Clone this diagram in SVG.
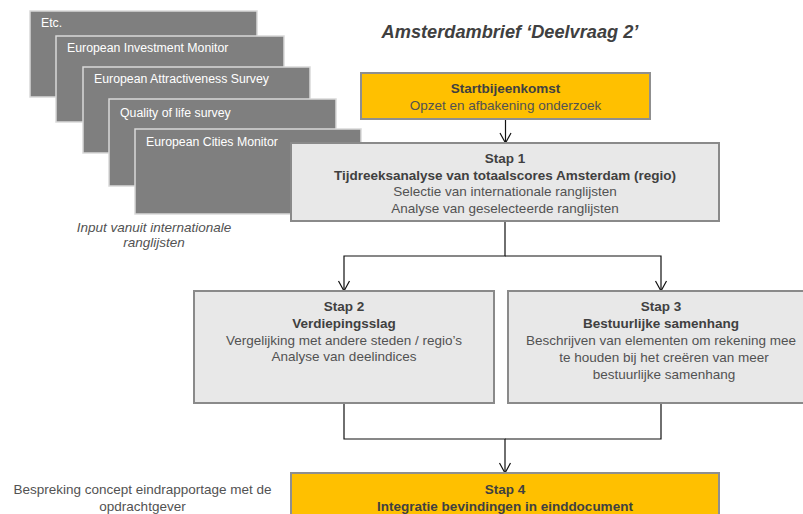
<svg xmlns="http://www.w3.org/2000/svg" width="803" height="514" viewBox="0 0 803 514">
<defs>
<style>
.src{fill:#7f7f7f;stroke:#d9d9d9;stroke-width:1.5}
.srct{font-family:"Liberation Sans",Arial,sans-serif;font-size:12.3px;fill:#ffffff}
.box{fill:#e8e8e8;stroke:#8a8a8a;stroke-width:2}
.ybox{fill:#ffc000;stroke:#8f8f8f;stroke-width:2}
.t{font-family:"Liberation Sans",Arial,sans-serif;font-size:13.5px;fill:#525252;text-anchor:middle}
.b{font-weight:bold;fill:#404040}
.it{font-style:italic}
.conn{fill:none;stroke:#111;stroke-width:1.2}
</style>
<marker id="arr" viewBox="-1 -7 12 14" refX="10" refY="0" markerWidth="12" markerHeight="14" markerUnits="userSpaceOnUse" orient="auto">
<path d="M0,-5.5 L10,0 L0,5.5" fill="none" stroke="#111" stroke-width="1.2"/>
</marker>
</defs>
<rect width="803" height="514" fill="#ffffff"/>

<g id="src-etc"><rect class="src" x="30" y="11" width="227" height="86"/><text class="srct" x="41" y="27">Etc.</text></g>
<g id="src-eim"><rect class="src" x="56" y="36" width="228" height="86"/><text class="srct" x="67" y="52">European Investment Monitor</text></g>
<g id="src-eas"><rect class="src" x="83" y="67" width="227" height="86"/><text class="srct" x="94" y="83">European Attractiveness Survey</text></g>
<g id="src-qol"><rect class="src" x="109" y="99" width="227" height="87"/><text class="srct" x="120" y="117">Quality of life survey</text></g>
<g id="src-ecm"><rect class="src" x="135" y="129" width="226" height="85"/><text class="srct" x="146" y="146">European Cities Monitor</text></g>

<g id="input-label"><text class="t it" x="154" y="232">Input vanuit internationale</text><text class="t it" x="154" y="247">ranglijsten</text></g>

<g id="title"><text x="510" y="38" font-family="'Liberation Sans',Arial,sans-serif" font-size="18.2px" font-weight="bold" font-style="italic" fill="#404040" text-anchor="middle">Amsterdambrief ‘Deelvraag 2’</text></g>

<g id="connectors">
<path class="conn" d="M505.5,119 V143" marker-end="url(#arr)"/>
<path class="conn" d="M505,221 V256 H344 V291" marker-end="url(#arr)"/>
<path class="conn" d="M505,256 H661 V291" marker-end="url(#arr)"/>
<path class="conn" d="M344,403 V439 H505 V473" marker-end="url(#arr)"/>
<path class="conn" d="M661,403 V439 H505"/>
</g>

<g id="start"><rect class="ybox" x="361" y="73" width="289" height="46"/>
<text class="t b" x="505.5" y="93">Startbijeenkomst</text>
<text class="t" x="505.5" y="109.5">Opzet en afbakening onderzoek</text></g>

<g id="stap1"><rect class="box" x="291" y="143" width="428" height="78"/>
<text class="t b" x="505" y="163">Stap 1</text>
<text class="t b" x="505" y="180">Tijdreeksanalyse van totaalscores Amsterdam (regio)</text>
<text class="t" x="505" y="196">Selectie van internationale ranglijsten</text>
<text class="t" x="505" y="213">Analyse van geselecteerde ranglijsten</text></g>

<g id="stap2"><rect class="box" x="194" y="291" width="300" height="112"/>
<text class="t b" x="344" y="311">Stap 2</text>
<text class="t b" x="344" y="328">Verdiepingsslag</text>
<text class="t" x="344" y="345">Vergelijking met andere steden / regio’s</text>
<text class="t" x="344" y="361">Analyse van deelindices</text></g>

<g id="stap3"><rect class="box" x="508" y="291" width="305" height="112"/>
<text class="t b" x="661" y="311">Stap 3</text>
<text class="t b" x="661" y="328">Bestuurlijke samenhang</text>
<text class="t" x="661" y="345">Beschrijven van elementen om rekening mee</text>
<text class="t" x="664" y="362">te houden bij het creëren van meer</text>
<text class="t" x="664" y="379">bestuurlijke samenhang</text></g>

<g id="bespreking"><text class="t" x="142.5" y="494">Bespreking concept eindrapportage met de</text><text class="t" x="142.5" y="511">opdrachtgever</text></g>

<g id="stap4"><rect class="ybox" x="291" y="473" width="428" height="60"/>
<text class="t b" x="505" y="494">Stap 4</text>
<text class="t b" x="505" y="511">Integratie bevindingen in einddocument</text></g>
</svg>
